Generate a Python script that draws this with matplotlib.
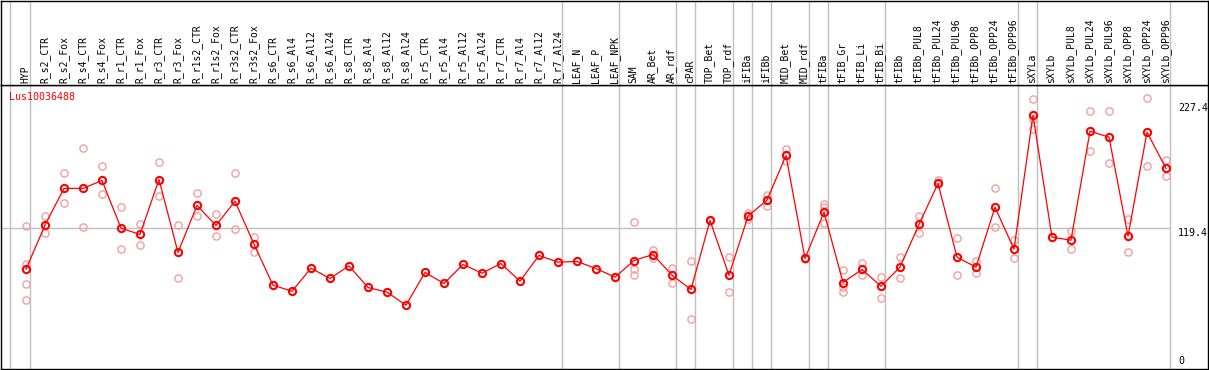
import numpy as np
import matplotlib
matplotlib.use("Agg")
import matplotlib.pyplot as plt

# sample names (one column each)
labels = ["HYP", "R_s2_CTR", "R_s2_Fox", "R_s4_CTR", "R_s4_Fox", "R_r1_CTR", "R_r1_Fox",
          "R_r3_CTR", "R_r3_Fox", "R_r1s2_CTR", "R_r1s2_Fox", "R_r3s2_CTR", "R_r3s2_Fox",
          "R_s6_CTR", "R_s6_Al4", "R_s6_Al12", "R_s6_Al24", "R_s8_CTR", "R_s8_Al4",
          "R_s8_Al12", "R_s8_Al24", "R_r5_CTR", "R_r5_Al4", "R_r5_Al12", "R_r5_Al24",
          "R_r7_CTR", "R_r7_Al4", "R_r7_Al12", "R_r7_Al24", "LEAF_N", "LEAF_P", "LEAF_NPK",
          "SAM", "AR_Bet", "AR_rdf", "cPAR", "TOP_Bet", "TOP_rdf", "iFIBa", "iFIBb",
          "MID_Bet", "MID_rdf", "tFIBa", "tFIB_Gr", "tFIB_Li", "tFIB_Bi", "tFIBb",
          "tFIBb_PUL8", "tFIBb_PUL24", "tFIBb_PUL96", "tFIBb_OPP8", "tFIBb_OPP24",
          "tFIBb_OPP96", "sXYLa", "sXYLb", "sXYLb_PUL8", "sXYLb_PUL24", "sXYLb_PUL96",
          "sXYLb_OPP8", "sXYLb_OPP24", "sXYLb_OPP96"]

# mean expression per sample
means = [83.8, 121.9, 153.6, 153.6, 160.5, 119.3, 113.8, 161.3, 98.3, 138.9, 121.6, 142.6, 105.4,
         70.0, 64.8, 84.7, 75.8, 86.7, 68.0, 64.0, 52.7, 81.0, 71.5, 87.9, 80.4,
         88.7, 73.5, 95.7, 89.9, 90.5, 84.4, 76.9,
         91.3, 96.5, 78.6, 66.3, 125.9, 78.6, 129.6, 143.5,
         182.1, 93.1, 133.1, 72.3, 83.6, 69.1, 85.6,
         122.5, 157.9, 94.2, 85.6, 137.4, 101.1,
         216.7, 111.5, 108.9, 203.1, 197.9, 112.4, 202.2, 170.9]

# individual replicates
replicates = [[121.0, 88.2, 70.9, 57.6], [129.6, 114.7], [166.5, 140.6], [188.2, 120.1],
              [173.4, 148.4], [137.2, 100.9], [122.5, 104.6], [176.3, 146.7], [121.6, 75.8],
              [149.5, 129.4], [131.1, 112.4], [166.5, 118.4], [111.8, 98.8],
              [], [], [], [], [], [], [], [], [], [], [], [], [], [], [], [], [], [], [],
              [124.5, 83.8, 78.4], [100.0, 93.6], [85.0, 71.5], [90.5, 41.2], [126.5, 125.3],
              [94.2, 64.0], [132.5, 127.3], [148.1, 138.5],
              [187.3, 177.2], [93.6, 92.6], [140.0, 137.2, 123.9], [82.7, 68.5, 64.5],
              [89.0, 78.9], [77.5, 58.5], [94.2, 75.8],
              [129.6, 115.2], [160.8, 157.0], [110.4, 78.4], [90.8, 80.1], [153.6, 119.9],
              [108.9, 93.3],
              [230.8, 213.2, 204.6], [111.5], [116.9, 101.1], [220.1, 185.8], [220.1, 175.5],
              [126.8, 98.3], [231.6, 172.6], [178.0, 164.0]]

group_ends = [0, 28, 31, 34, 35, 37, 38, 39, 41, 42, 45, 52, 53, 60]
ref_level = 119.4
max_label = 227.4
gene = "Lus10036488"

W, H = 1209, 370
fig = plt.figure(figsize=(W / 100, H / 100), dpi=100)
mono = "DejaVu Sans Mono"

x = np.arange(len(labels))
xlim = ((1 - 26) / 19, (1208 - 26) / 19)
left, width = 1 / W, 1207 / W
hdr_bot = (H - 85) / H

ax = fig.add_axes([left, (H - 368.7) / H, width, hdr_bot - (H - 368.7) / H])
hd = fig.add_axes([left, hdr_bot, width, (H - 0.5) / H - hdr_bot])

scale = 1.1574
ax.set_xlim(*xlim)
ax.set_ylim((366.2 - 368.7) / scale, (366.2 - 85) / scale)
hd.set_xlim(*xlim)
hd.set_ylim(0, 1)

for a in (ax, hd):
    a.set_xticks([])
    a.set_yticks([])
    for s in a.spines.values():
        s.set_color("black")
        s.set_linewidth(1)

# separators through header and plot
sep = [-0.816] + [g + 4 / 19 for g in group_ends]
for s in sep:
    ax.axvline(s, color="#c0c0c0", lw=1, zorder=1)
    hd.axvline(s, color="#c0c0c0", lw=1, zorder=1)
ax.hlines(ref_level, xlim[0], sep[-1], color="#c0c0c0", lw=1, zorder=1)

# replicates
for i, reps in enumerate(replicates):
    if reps:
        ax.plot([i] * len(reps), reps, "o", ms=5.2, mfc="none", mec="#f0a0a0", mew=1.0,
                zorder=2, clip_on=False)

ax.plot(x, means, "-", color="red", lw=0.9, zorder=3)
ax.plot(x, means, "o", ms=5.2, mfc="none", mec="red", mew=1.5, zorder=4)

for i, lab in enumerate(labels):
    hd.text(i - 0.03, 0.025, lab, rotation=90, ha="center", va="bottom",
            family=mono, fontsize=7, color="black")

ax.text(9 / W, 1 - 97 / H, gene, transform=fig.transFigure, family=mono, fontsize=7.2,
        color="red", va="center", ha="left")

xr = (1178 - 26) / 19
ax.text(xr, max_label, f"{max_label}", family=mono, fontsize=7.2, va="top", ha="left")
ax.text(xr, ref_level, f"{ref_level}", family=mono, fontsize=7.2, va="top", ha="left")
ax.text(xr, 0, "0", family=mono, fontsize=7.2, va="bottom", ha="left")

fig.savefig("out.png", dpi=100)
